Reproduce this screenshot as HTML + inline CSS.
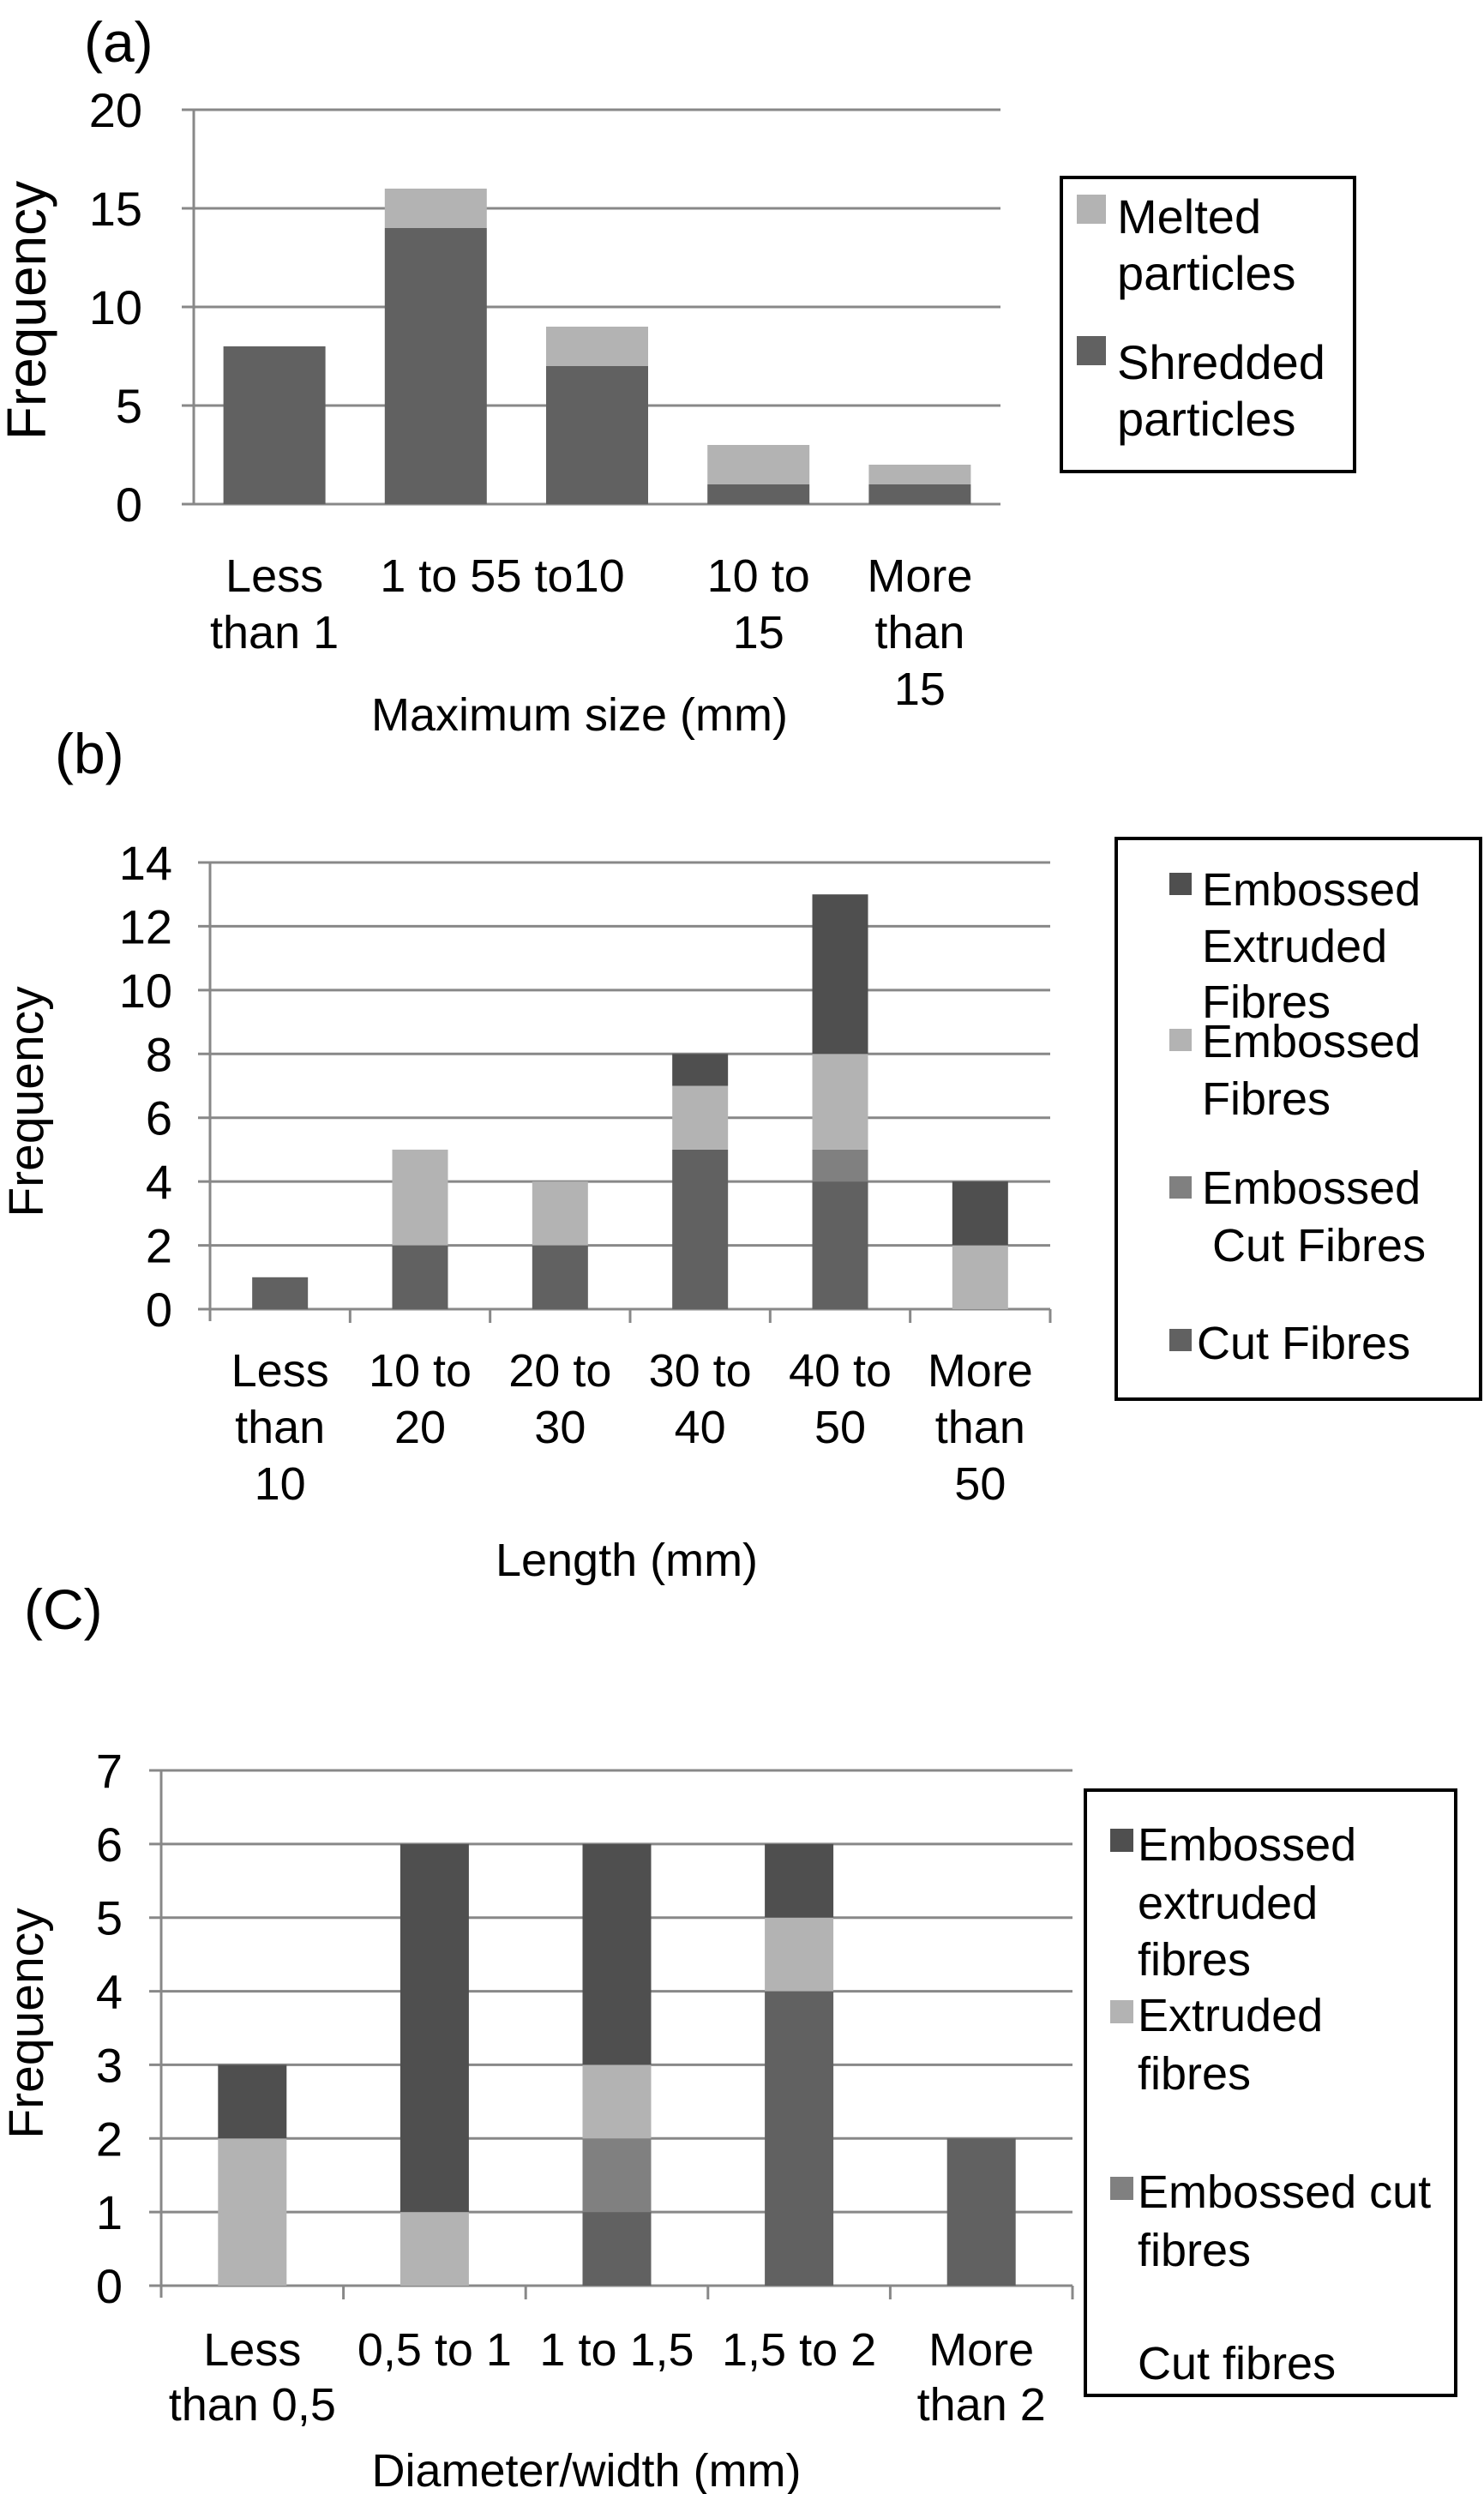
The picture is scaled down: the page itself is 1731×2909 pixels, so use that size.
<!DOCTYPE html>
<html><head><meta charset="utf-8">
<style>
html,body{margin:0;padding:0;background:#fff;}
svg{display:block;font-family:"Liberation Sans",Arial,sans-serif;}
</style></head>
<body>
<svg id="fig" width="1731" height="2909" viewBox="0 0 1731 2909" xmlns="http://www.w3.org/2000/svg">
<rect width="1731" height="2909" fill="#fff"/>
<g id="ga"></g>
<g id="gb"></g>
<g id="gc"></g>
</svg>
<script>
// ---- Chart (a) data ----
const catsA = [["Less","than 1"],["1 to 5"],["5 to10"],["10 to","15"],["More","than","15"]];
const shreddedA = [8,14,7,1,1];
const meltedA = [0,2,2,2,1];
const ticksA = [0,5,10,15,20];
// ---- Chart (b) data ----
const catsB = [["Less","than","10"],["10 to","20"],["20 to","30"],["30 to","40"],["40 to","50"],["More","than","50"]];
const cutB = [1,2,2,5,4,0];
const embCutB = [0,0,0,0,1,0];
const embFibB = [0,3,2,2,3,2];
const embExtB = [0,0,0,1,5,2];
const ticksB = [0,2,4,6,8,10,12,14];
// ---- Chart (c) data ----
const catsC = [["Less","than 0,5"],["0,5 to 1"],["1 to 1,5"],["1,5 to 2"],["More","than 2"]];
const cutC = [0,0,1,4,2];
const embCutC = [0,0,1,0,0];
const extC = [2,1,1,1,0];
const embExtC = [1,5,3,1,0];
const ticksC = [0,1,2,3,4,5,6,7];

const NS = "http://www.w3.org/2000/svg";
function mk(parent, tag, attrs, text){
  const e = document.createElementNS(NS, tag);
  for (const k in attrs) e.setAttribute(k, attrs[k]);
  if (text !== undefined) e.textContent = text;
  parent.appendChild(e);
  return e;
}
const DARK="#4f4f4f", CUT="#616161", MID="#808080", LIGHT="#b3b3b3";

function drawChart(g, cfg){
  const {left,right,y0,yTop,max,ticks,cats,series,barW,tickX,labelY,lineH,tickMarks,labelShift} = cfg;
  const n = cats.length;
  const cw = (right-left)/n;
  const xC = i => left + cw*(i+0.5);
  const yS = v => y0 - (v/max)*(y0-yTop);
  ticks.forEach(t=>{
    const gl = mk(g,'line',{x1:left-14,x2:right,y1:yS(t),y2:yS(t),stroke:'#888','stroke-width':3});
    
    
    const tl = mk(g,'text',{x:tickX,y:yS(t)+20,'text-anchor':'end','font-size':56,fill:'#000'},String(t));
    
    
  });
  const ax = mk(g,'line',{x1:left,x2:left,y1:yTop,y2:y0+(tickMarks?14:0),stroke:'#888','stroke-width':3});
  
  
  if (tickMarks){
    for(let i=1;i<=n;i++){
      const tm = mk(g,'line',{x1:left+cw*i,x2:left+cw*i,y1:y0,y2:y0+16,stroke:'#888','stroke-width':3});
      
      
    }
  }
  for(let i=0;i<n;i++){
    let acc=0;
    series.forEach(s=>{
      const v = s.vals[i];
      if (v>0){
        const r = mk(g,'rect',{x:xC(i)-barW/2,y:yS(acc+v),width:barW,height:yS(acc)-yS(acc+v),fill:s.color});
        
        
      }
      acc+=v;
    });
    const shift = labelShift ? labelShift(i,cw) : {dx:0,anchor:'middle'};
    cats[i].forEach((ln,j)=>{
      const t = mk(g,'text',{x:xC(i)+shift.dx,y:labelY+j*lineH,'text-anchor':shift.anchor,'font-size':54,fill:'#000'},ln);
      
      
    });
  }
}
function txt(g,name,attrs,s){
  const t = mk(g,'text',Object.assign({'font-size':54,fill:'#000'},attrs),s);
  
  
  return t;
}
function legendBox(g,x,y,w,h){
  const r = mk(g,'rect',{x:x,y:y,width:w,height:h,fill:'#fff',stroke:'#000','stroke-width':4});
  
  
}
function swatch(g,x,y,s,color){
  const r = mk(g,'rect',{x:x,y:y,width:s,height:s,fill:color});
  
  
}

// ---- (a) ----
const ga = document.getElementById('ga');
txt(ga,'panel-label-a',{x:98,y:72,'font-size':66},'(a)');
drawChart(ga,{left:226,right:1167,y0:588,yTop:128,max:20,ticks:ticksA,cats:catsA,
  series:[{key:'shredded',vals:shreddedA,color:CUT},{key:'melted',vals:meltedA,color:LIGHT}],
  barW:119,tickX:166,labelY:690,lineH:66,tickMarks:false,
  labelShift:(i,cw)=> i===1?{dx:70,anchor:'end'}:(i===2?{dx:-118,anchor:'start'}:{dx:0,anchor:'middle'})});
txt(ga,'x-axis-title',{x:676,y:852,'text-anchor':'middle'},'Maximum size (mm)');
txt(ga,'y-axis-title',{x:0,y:0,'text-anchor':'middle','font-size':64,transform:'translate(53,362) rotate(-90)'},'Frequency');
legendBox(ga,1238,207,342,343);
swatch(ga,1256,227,34,LIGHT);
txt(ga,'legend-entry',{x:1303,y:272,'font-size':56},'Melted');
txt(ga,'legend-entry',{x:1303,y:338,'font-size':56},'particles');
swatch(ga,1256,392,34,CUT);
txt(ga,'legend-entry',{x:1303,y:442,'font-size':56},'Shredded');
txt(ga,'legend-entry',{x:1303,y:508,'font-size':56},'particles');

// ---- (b) ----
const gb = document.getElementById('gb');
txt(gb,'panel-label-b',{x:64,y:902,'font-size':66},'(b)');
drawChart(gb,{left:245,right:1225,y0:1527,yTop:1006,max:14,ticks:ticksB,cats:catsB,
  series:[{key:'cut',vals:cutB,color:CUT},{key:'emb-cut',vals:embCutB,color:MID},{key:'emb-fibres',vals:embFibB,color:LIGHT},{key:'emb-extruded',vals:embExtB,color:DARK}],
  barW:65,tickX:201,labelY:1617,lineH:66,tickMarks:true});
txt(gb,'x-axis-title',{x:731,y:1838,'text-anchor':'middle'},'Length (mm)');
txt(gb,'y-axis-title',{x:0,y:0,'text-anchor':'middle','font-size':57,transform:'translate(50,1285) rotate(-90)'},'Frequency');
legendBox(gb,1302,978,425,654);
swatch(gb,1364,1018,26,DARK);
txt(gb,'legend-entry',{x:1402,y:1056},'Embossed');
txt(gb,'legend-entry',{x:1402,y:1122},'Extruded');
txt(gb,'legend-entry',{x:1402,y:1187},'Fibres');
swatch(gb,1364,1200,26,LIGHT);
txt(gb,'legend-entry',{x:1402,y:1233},'Embossed');
txt(gb,'legend-entry',{x:1402,y:1300},'Fibres');
swatch(gb,1364,1372,26,MID);
txt(gb,'legend-entry',{x:1402,y:1404},'Embossed');
txt(gb,'legend-entry',{x:1414,y:1471},'Cut Fibres');
swatch(gb,1364,1550,26,CUT);
txt(gb,'legend-entry',{x:1396,y:1585},'Cut Fibres');

// ---- (c) ----
const gc = document.getElementById('gc');
txt(gc,'panel-label-c',{x:28,y:1900,'font-size':66},'(C)');
drawChart(gc,{left:188,right:1251,y0:2666,yTop:2065,max:7,ticks:ticksC,cats:catsC,
  series:[{key:'cut',vals:cutC,color:CUT},{key:'emb-cut',vals:embCutC,color:MID},{key:'extruded',vals:extC,color:LIGHT},{key:'emb-extruded',vals:embExtC,color:DARK}],
  barW:80,tickX:143,labelY:2759,lineH:64,tickMarks:true});
txt(gc,'x-axis-title',{x:684,y:2900,'text-anchor':'middle'},'Diameter/width (mm)');
txt(gc,'y-axis-title',{x:0,y:0,'text-anchor':'middle','font-size':57,transform:'translate(50,2360) rotate(-90)'},'Frequency');
legendBox(gc,1266,2088,432,706);
swatch(gc,1295,2133,27,DARK);
txt(gc,'legend-entry',{x:1327,y:2170},'Embossed');
txt(gc,'legend-entry',{x:1327,y:2238},'extruded');
txt(gc,'legend-entry',{x:1327,y:2304},'fibres');
swatch(gc,1295,2333,27,LIGHT);
txt(gc,'legend-entry',{x:1327,y:2369},'Extruded');
txt(gc,'legend-entry',{x:1327,y:2437},'fibres');
swatch(gc,1295,2539,27,MID);
txt(gc,'legend-entry',{x:1327,y:2575},'Embossed cut');
txt(gc,'legend-entry',{x:1327,y:2643},'fibres');
txt(gc,'legend-entry',{x:1327,y:2775},'Cut fibres');
</script>
</body></html>
